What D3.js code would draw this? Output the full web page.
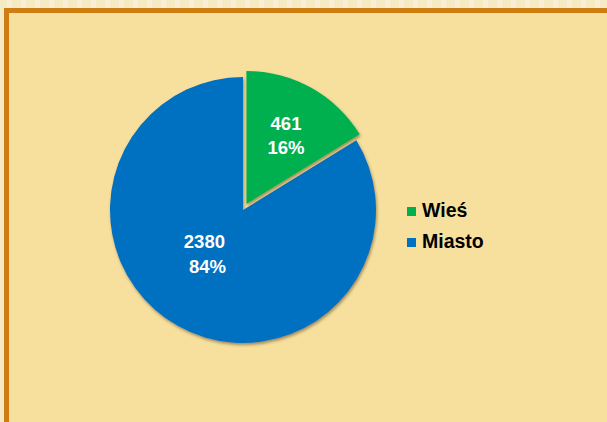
<!DOCTYPE html>
<html>
<head>
<meta charset="utf-8">
<script src="https://cdn.jsdelivr.net/npm/d3@7"></script>
<style>
body { margin: 0; padding: 0; background: #f6ebc6; }
svg { display: block; }
</style>
</head>
<body>
<div id="canvas"></div>
<script>
// ----------------------------------------------------------
// DATA -----------------------------------------------------
// ----------------------------------------------------------
var categories = ["Wieś", "Miasto"];
var values = [461, 2380];
var percent_labels = ["16%", "84%"];
var colors = ["#00b050", "#0070c0"];

// ----------------------------------------------------------
// LAYOUT ---------------------------------------------------
// ----------------------------------------------------------
var width = 607, height = 422;
var cx = 243, cy = 210, radius = 133;
var explode = [7, 0];           // offset of each slice, px
var label_r = [0.61, 0.41];     // label radius, fraction of r
var label_dx = [0, -12];
var label_dy = [-2, -8];

var svg = d3.select("#canvas").append("svg")
  .attr("width", width)
  .attr("height", height);

var defs = svg.append("defs");
var stripes = defs.append("pattern")
  .attr("id", "stripes")
  .attr("patternUnits", "userSpaceOnUse")
  .attr("width", 14).attr("height", 8);
stripes.append("rect").attr("width", 14).attr("height", 8).style("fill", "#f6eac4");
stripes.append("rect").attr("x", 7).attr("width", 5).attr("height", 8).style("fill", "#f8f0d6");

var shadow = defs.append("filter")
  .attr("id", "shadow")
  .attr("x", "-20%").attr("y", "-20%")
  .attr("width", "140%").attr("height", "140%");
shadow.append("feDropShadow")
  .attr("dx", 1).attr("dy", 2)
  .attr("stdDeviation", 1.6)
  .attr("flood-color", "#5a4a20")
  .attr("flood-opacity", 0.55);

// outer strip, border, panel
svg.append("rect").attr("width", width).attr("height", height).style("fill", "url(#stripes)");
svg.append("rect").attr("x", 4).attr("y", 8).attr("width", width).attr("height", height)
  .style("fill", "#cd7d12");
svg.append("rect").attr("x", 9).attr("y", 13).attr("width", width).attr("height", height)
  .style("fill", "#f7e09e");

// ----------------------------------------------------------
// GFX ------------------------------------------------------
// ----------------------------------------------------------
var pie = d3.pie().sort(null).value(function(d) { return d; });
var arcs = pie(values);
var arc = d3.arc().innerRadius(0).outerRadius(radius);

var pie_group = svg.append("g")
  .attr("transform", "translate(" + cx + "," + cy + ")");

function offset(d, i) {
  var a = (d.startAngle + d.endAngle) / 2;
  return [Math.sin(a) * explode[i], -Math.cos(a) * explode[i]];
}

// draw blue first so green shadow lies on top
var order = [1, 0];
order.forEach(function(i) {
  var d = arcs[i];
  var o = offset(d, i);
  pie_group.append("path")
    .attr("d", arc(d))
    .attr("transform", "translate(" + o[0] + "," + o[1] + ")")
    .attr("filter", "url(#shadow)")
    .style("fill", colors[i]);
});

// slice labels
arcs.forEach(function(d, i) {
  var o = offset(d, i);
  var r = radius * label_r[i];
  var c = d3.arc().innerRadius(r).outerRadius(r).centroid(d);
  var x = c[0] + o[0] + label_dx[i];
  var t = pie_group.append("text")
    .attr("x", x)
    .attr("y", c[1] + o[1] + label_dy[i])
    .attr("text-anchor", "middle")
    .style("font-family", "Liberation Sans, Arial, sans-serif")
    .style("font-weight", "bold")
    .style("font-size", "18.5px")
    .style("fill", "#ffffff");
  t.append("tspan").attr("x", x).attr("dy", "-0.08em").text(values[i]);
  t.append("tspan").attr("x", x + (i === 1 ? 3 : 0)).attr("dy", "1.33em").text(percent_labels[i]);
});

// ----------------------------------------------------------
// LEGEND ---------------------------------------------------
// ----------------------------------------------------------
var legend = svg.append("g").attr("transform", "translate(407,207)");
categories.forEach(function(name, i) {
  var g = legend.append("g").attr("transform", "translate(0," + (i * 31) + ")");
  g.append("rect")
    .attr("width", 9).attr("height", 9)
    .style("fill", colors[i]);
  g.append("text")
    .attr("x", 15).attr("y", 10)
    .style("font-family", "Liberation Sans, Arial, sans-serif")
    .style("font-weight", "bold")
    .style("font-size", "19.5px")
    .style("fill", "#000000")
    .text(name);
});
</script>
</body>
</html>
